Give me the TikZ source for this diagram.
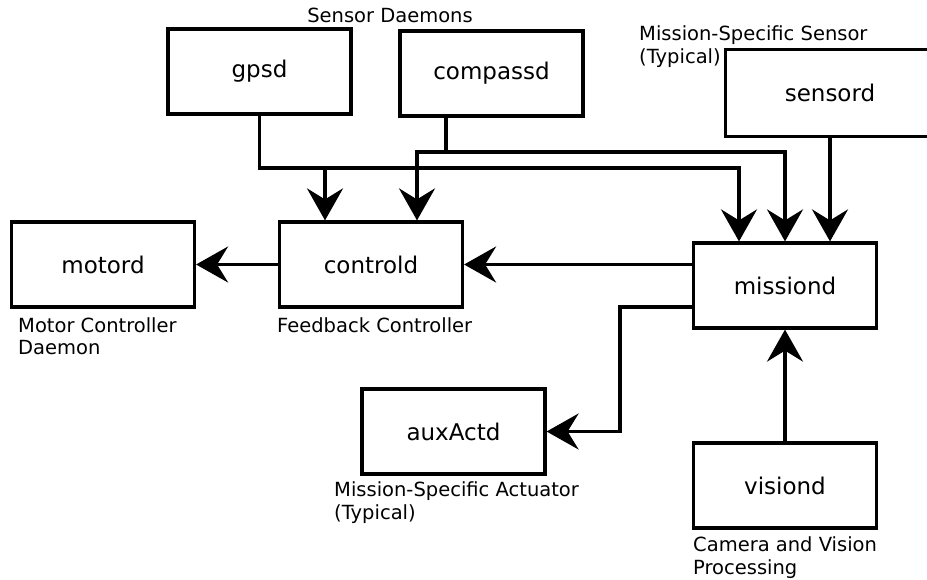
\documentclass[tikz,border=0pt]{standalone}
\usepackage{fontspec}
\setmainfont{DejaVu Sans}
\usetikzlibrary{arrows.meta,positioning}

\tikzset{
  daemon/.style={draw,line width=3.2pt,minimum width=183pt,minimum height=85pt,inner sep=0pt,font=\fontsize{23}{27}\selectfont},
  tag/.style={inner sep=0pt,align=left,font=\fontsize{19.5}{22.5}\selectfont},
  arr/.style={line width=3.2pt,-{Stealth[length=32pt,width=36pt,inset=11pt]}},
  wire/.style={line width=3.2pt}
}

\begin{document}
\begin{tikzpicture}[x=1pt,y=-1pt]
\useasboundingbox (0,0) rectangle (927,579);

% Daemons
\node[daemon] (gpsd) at (259.5,71.5) {gpsd};
\node[daemon] (compassd) at (491.5,73.5) {compassd};
\node[daemon,draw=none,minimum width=206pt,minimum height=84pt] (sensord) at (830,93) {sensord};
\node[daemon] (motord) at (103,264.5) {motord};
\node[daemon] (controld) at (371,264.5) {controld};
\node[daemon] (missiond) at (785,285.5) {missiond};
\node[daemon] (auxActd) at (453.5,431.5) {auxActd};
\node[daemon] (visiond) at (785,485.5) {visiond};

% sensord runs off the right edge
\draw[wire] (sensord.north east) -- (sensord.north west) -- (sensord.south west) -- (sensord.south east);

% Labels
\node[tag] (senslbl) at (390,15) {Sensor Daemons};
\node[tag,anchor=west] (mslbl) at (639,46.5) {Mission-Specific Sensor\\(Typical)};
\node[tag,anchor=west] (motlbl) at (18,336) {Motor Controller\\Daemon};
\node[tag,anchor=west] (fblbl) at (277,325) {Feedback Controller};
\node[tag,anchor=west] (malbl) at (334,502.5) {Mission-Specific Actuator\\(Typical)};
\node[tag,anchor=west] (camlbl) at (693,557.5) {Camera and Vision\\Processing};

% Bus points
\coordinate (gbr) at (325,168);
\coordinate (gtap) at (739,168);
\coordinate (cbus) at (446,152);
\coordinate (cleft) at (417,152);
\coordinate (cright) at (785,152);
\coordinate (abend) at (620,307);

% Sensor data
\draw[arr] (gpsd.south) |- (gtap) -- (missiond.north -| gtap);
\draw[arr] (gbr) -- (controld.north -| gbr);
\draw[wire] (compassd.south -| cbus) -- (cbus);
\draw[arr] (cbus) -| (controld.north -| cleft);
\draw[arr] (cbus) -| (missiond.north -| cright);
\draw[arr] (sensord.south) -- (missiond.north -| sensord.south);

% Commands
\draw[arr] (controld -| missiond.west) -- (controld.east);
\draw[arr] (controld.west) -- (motord.east);
\draw[arr] (abend -| missiond.west) -- (abend) |- (auxActd.east);
\draw[arr] (visiond.north) -- (missiond.south);
\end{tikzpicture}
\end{document}
